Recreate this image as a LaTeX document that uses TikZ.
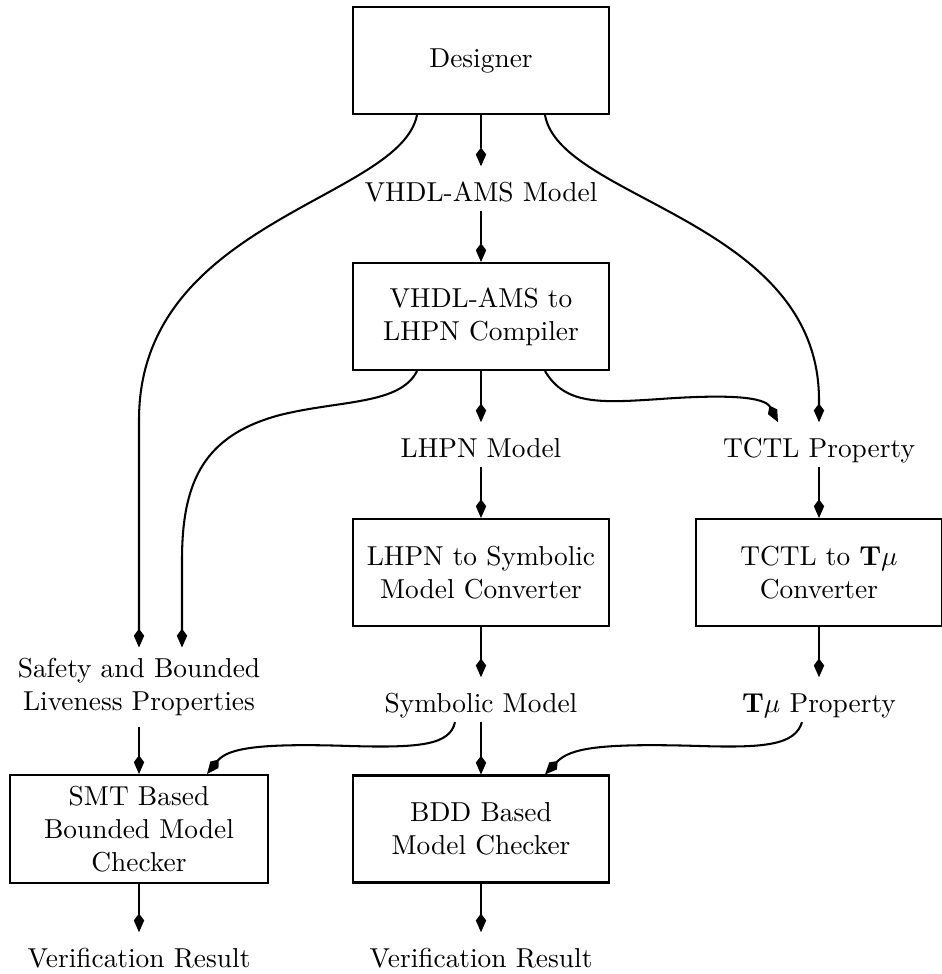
\documentclass[tikz,border=0pt]{standalone}
\usetikzlibrary{arrows.meta,calc}
\begin{document}
\begin{tikzpicture}[x=0.365pt,y=-0.365pt,
  box/.style={draw, line width=0.75pt, align=center, inner sep=2pt,
    minimum width=256*0.365pt, minimum height=107*0.365pt},
  lbl/.style={align=center, text height=9pt, text depth=0pt,
    inner xsep=2pt, inner ysep=3.5pt, anchor=base},
  tipk/.tip={Kite[length=6.8pt,width=3.8pt,inset=2.5pt]},
  conn/.style={line width=0.75pt, -tipk},
  thinconn/.style={line width=0.4pt, -tipk}]
\useasboundingbox (0,0) rectangle (942,974);

\node[box] (designer) at (481,60.5) {Designer};
\node[lbl] (vhdl) at (481,201) {VHDL-AMS Model};
\node[box] (compiler) at (481,316.5) {VHDL-AMS to\\LHPN Compiler};
\node[lbl] (lhpnm) at (481,457) {LHPN Model};
\node[lbl] (tctlp) at (819,457) {TCTL Property};
\node[box] (conv) at (481,572.5) {LHPN to Symbolic\\Model Converter};
\node[box, minimum width=246*0.365pt] (tconv) at (819,572.5) {TCTL to $\mathbf{T}\mu$\\Converter};
\node[align=center, minimum height=78*0.365pt, inner sep=0pt] (safety) at (139,687) {Safety and Bounded\\Liveness Properties};
\node[lbl] (symb) at (481,712) {Symbolic Model};
\node[lbl] (tmu) at (819,712) {$\mathbf{T}\mu$ Property};
\node[box, minimum width=258*0.365pt, minimum height=108*0.365pt] (smt) at (139,829) {SMT Based\\Bounded Model\\Checker};
\node[box] (bdd) at (481,829) {BDD Based\\Model Checker};
\node[lbl] (ver1) at (139,967) {Verification Result};
\node[lbl] (ver2) at (481,967) {Verification Result};

% straight connectors
\draw[thinconn] (designer) -- (vhdl);
\draw[thinconn] (vhdl) -- (compiler);
\draw[conn] (compiler) -- (lhpnm);
\draw[conn] (lhpnm) -- (conv);
\draw[conn] (tctlp) -- (tconv);
\draw[conn] (conv) -- (symb);
\draw[conn] (tconv) -- (tmu);
\draw[conn] (safety) -- (smt);
\draw[conn] (symb) -- (bdd);
\draw[conn] (smt) -- (ver1);
\draw[conn] (bdd) -- (ver2);

% curved connectors
\draw[conn] ($(designer.south)+(-64,0)$) .. controls (400,200) and (139,220) .. (139,420) -- (safety.north);
\draw[conn] ($(designer.south)+(64,0)$) .. controls (560,200) and (819,220) .. (819,400) -- (tctlp.north);
\draw[conn] ($(compiler.south)+(-64,0)$) .. controls (400,405) and (340,400) .. (280,415)
  .. controls (205,435) and (182,480) .. (182,560) -- ($(safety.north)+(43,0)$);
\draw[conn] ($(compiler.south)+(64,0)$) .. controls (565,405) and (600,403) .. (660,399)
  .. controls (730,394) and (765,397) .. ($(tctlp.north)+(-41,0)$);
\draw[conn] ($(symb.south)+(-26,0)$) .. controls (450,745) and (420,748) .. (350,746)
  .. controls (260,743) and (228,748) .. ($(smt.north)+(68,0)$);
\draw[conn] ($(tmu.south)+(-17,0)$) .. controls (795,745) and (765,748) .. (700,746)
  .. controls (600,743) and (570,748) .. ($(bdd.north)+(64,0)$);
\end{tikzpicture}
\end{document}
